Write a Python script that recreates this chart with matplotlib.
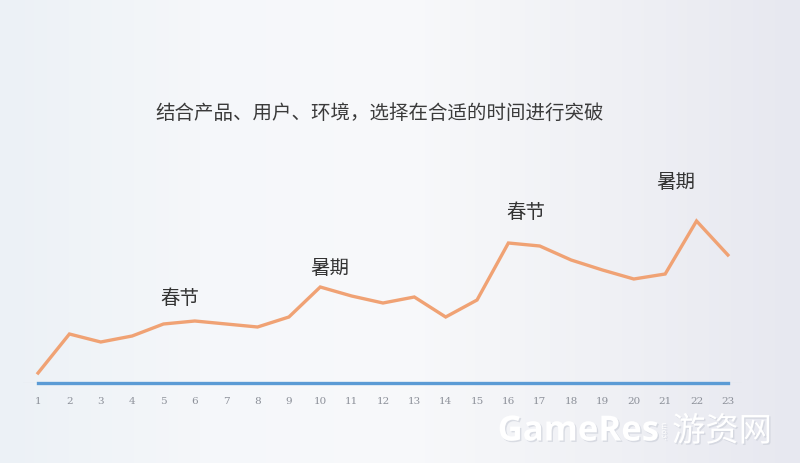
import numpy as np
import matplotlib.pyplot as plt
import matplotlib.patheffects as pe
from matplotlib.colors import LinearSegmentedColormap

plt.rcParams['font.family'] = ['Noto Sans CJK SC', 'DejaVu Sans']

# data
periods = list(range(1, 24))
values = [10, 49, 41, 47, 59, 62, 59, 56, 66, 96, 87, 80, 86, 66, 83,
          140, 137, 123, 113, 104, 109, 162, 128]
baseline = [0] * 23
title = "结合产品、用户、环境，选择在合适的时间进行突破"
note_labels = ["春节", "暑期", "春节", "暑期"]
note_x = [5.53, 10.31, 16.56, 21.34]
note_y = [84, 115, 170, 200]

fig = plt.figure(figsize=(8, 4.63), dpi=100)

# soft background gradient
bg = fig.add_axes([0, 0, 1, 1], zorder=-10)
cmap = LinearSegmentedColormap.from_list(
    "bg", ["#ecf1f6", "#f5f7fa", "#f8f9fb", "#f0f1f5", "#e7e8f0"])
grad = np.tile(np.linspace(0, 1, 256), (10, 1))
bg.imshow(grad, aspect="auto", cmap=cmap, extent=[0, 1, 0, 1])
bg.axis("off")

ax = fig.add_axes([23 / 800, 80 / 463, 719 / 800, 223 / 463])
ax.set_facecolor("none")
ax.plot(periods, values, color="#f0a274", lw=2.4, solid_joinstyle="miter")
ax.plot(periods, baseline, color="#5b9bd5", lw=2.4, clip_on=False)
ax.axhline(0, color="#d6d9de", lw=0.8, zorder=0)

for lab, x, y in zip(note_labels, note_x, note_y):
    ax.text(x, y, lab, fontsize=14, color="#333333", ha="center", va="center")

ax.set_xlim(0.52, 23.45)
ax.set_ylim(0, 223)
ax.set_xticks(periods)
ax.set_xticklabels([str(p) for p in periods], fontsize=7.5, color="#8c9099",
                   family="DejaVu Serif")
ax.tick_params(axis="x", length=0, pad=10)
ax.set_yticks([])
for s in ax.spines.values():
    s.set_visible(False)

fig.text(0.475, 0.756, title, fontsize=14, color="#3a3a3a",
         ha="center", va="center")

# watermark
shadow = [pe.withSimplePatchShadow(offset=(1, -1), shadow_rgbFace="#c8ccd6", alpha=0.6)]
fig.text(0.622, 0.068, "GameRes", fontsize=25, color="white",
         ha="left", va="center", path_effects=shadow, weight="bold",
         family="Open Sans")
fig.text(0.83, 0.068, ".com", fontsize=5.5, color="white", rotation=90,
         ha="center", va="center", path_effects=shadow)
fig.text(0.84, 0.068, "游资网", fontsize=24, color="white",
         ha="left", va="center", path_effects=shadow)

fig.savefig("out.png", dpi=100)
